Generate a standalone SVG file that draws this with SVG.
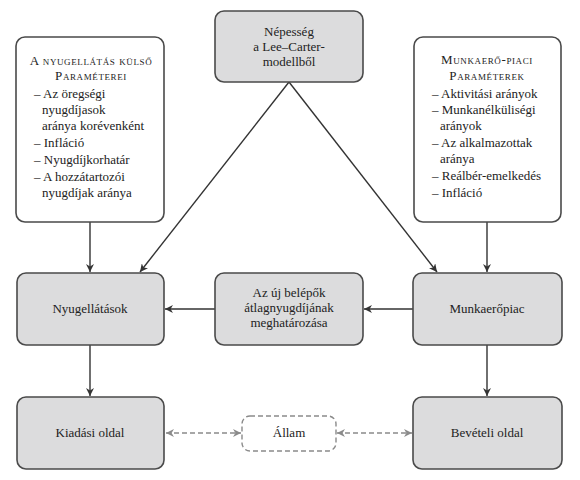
<svg xmlns="http://www.w3.org/2000/svg" width="580" height="480" viewBox="0 0 580 480">
<style>
  .box{fill:#dcdcdd;stroke:#4a4a4a;stroke-width:1.6}
  .pbox{fill:#ffffff;stroke:#4a4a4a;stroke-width:1.6}
  .dbox{fill:#ffffff;stroke:#8a8a8a;stroke-width:1.4;stroke-dasharray:5 3}
  text{font-family:"Liberation Serif","DejaVu Serif",serif;font-size:13px;fill:#222}
  .c{text-anchor:middle}
  .sc{font-variant:small-caps;letter-spacing:0.6px;font-size:13px}
  .ln{stroke:#333;stroke-width:1.4;fill:none}
  .dl{stroke:#8a8a8a;stroke-width:1.4;fill:none;stroke-dasharray:5 3}
</style>
<defs>
  <marker id="ah" viewBox="0 0 10 10" refX="10" refY="5" markerWidth="8" markerHeight="8" markerUnits="userSpaceOnUse" orient="auto">
    <path d="M0,0 L10,5 L0,10 L3,5 Z" fill="#333"/>
  </marker>
  <marker id="ahg" viewBox="0 0 10 10" refX="10" refY="5" markerWidth="8" markerHeight="8" markerUnits="userSpaceOnUse" orient="auto-start-reverse">
    <path d="M0,0 L10,5 L0,10 L3,5 Z" fill="#8a8a8a"/>
  </marker>
</defs>

<g id="connectors">
  <line class="ln" x1="90" y1="222" x2="90" y2="272" marker-end="url(#ah)"/>
  <line class="ln" x1="487" y1="222" x2="487" y2="272" marker-end="url(#ah)"/>
  <line class="ln" x1="289" y1="82" x2="140" y2="272" marker-end="url(#ah)"/>
  <line class="ln" x1="289" y1="82" x2="437" y2="272" marker-end="url(#ah)"/>
  <line class="ln" x1="413" y1="309" x2="364" y2="309" marker-end="url(#ah)"/>
  <line class="ln" x1="215" y1="309" x2="165" y2="309" marker-end="url(#ah)"/>
  <line class="ln" x1="90" y1="345" x2="90" y2="396" marker-end="url(#ah)"/>
  <line class="ln" x1="487" y1="345" x2="487" y2="396" marker-end="url(#ah)"/>
  <line class="dl" x1="166" y1="433" x2="241" y2="433" marker-start="url(#ahg)" marker-end="url(#ahg)"/>
  <line class="dl" x1="337" y1="433" x2="412" y2="433" marker-start="url(#ahg)" marker-end="url(#ahg)"/>
</g>

<g id="nyugellatas-parameterek">
  <rect class="pbox" x="16" y="37" width="148" height="185" rx="9"/>
  <text class="c sc" x="91" y="65">A nyugellátás külső</text>
  <text class="c sc" x="91" y="80">Paraméterei</text>
  <text x="34" y="98">– Az öregségi</text>
  <text x="42" y="114">nyugdíjasok</text>
  <text x="42" y="130">aránya korévenként</text>
  <text x="34" y="147">– Infláció</text>
  <text x="34" y="164">– Nyugdíjkorhatár</text>
  <text x="34" y="181">– A hozzátartozói</text>
  <text x="42" y="197">nyugdíjak aránya</text>
</g>

<g id="munkaeropiaci-parameterek">
  <rect class="pbox" x="414" y="37" width="147" height="185" rx="9"/>
  <text class="c sc" x="487" y="64">Munkaerő-piaci</text>
  <text class="c sc" x="487" y="80">Paraméterek</text>
  <text x="432" y="98">– Aktivitási arányok</text>
  <text x="432" y="114">– Munkanélküliségi</text>
  <text x="440" y="130">arányok</text>
  <text x="432" y="147">– Az alkalmazottak</text>
  <text x="440" y="163">aránya</text>
  <text x="432" y="180">– Reálbér-emelkedés</text>
  <text x="432" y="197">– Infláció</text>
</g>

<g id="nepesseg">
  <rect class="box" x="215" y="11" width="148" height="71" rx="9"/>
  <text class="c" x="289" y="36">Népesség</text>
  <text class="c" x="289" y="51">a Lee–Carter-</text>
  <text class="c" x="289" y="66">modellből</text>
</g>

<g id="nyugellatasok">
  <rect class="box" x="17" y="273" width="147" height="72" rx="9"/>
  <text class="c" x="90" y="313">Nyugellátások</text>
</g>

<g id="uj-belepok">
  <rect class="box" x="215" y="273" width="148" height="72" rx="9"/>
  <text class="c" x="289" y="297">Az új belépők</text>
  <text class="c" x="289" y="312">átlagnyugdíjának</text>
  <text class="c" x="289" y="327">meghatározása</text>
</g>

<g id="munkaeropiac">
  <rect class="box" x="413" y="273" width="149" height="72" rx="9"/>
  <text class="c" x="487" y="313">Munkaerőpiac</text>
</g>

<g id="kiadasi-oldal">
  <rect class="box" x="17" y="397" width="147" height="72" rx="9"/>
  <text class="c" x="90" y="437">Kiadási oldal</text>
</g>

<g id="allam">
  <rect class="dbox" x="242" y="416" width="94" height="35" rx="8"/>
  <text class="c" x="289" y="437">Állam</text>
</g>

<g id="beveteli-oldal">
  <rect class="box" x="413" y="397" width="149" height="72" rx="9"/>
  <text class="c" x="487" y="437">Bevételi oldal</text>
</g>
</svg>
